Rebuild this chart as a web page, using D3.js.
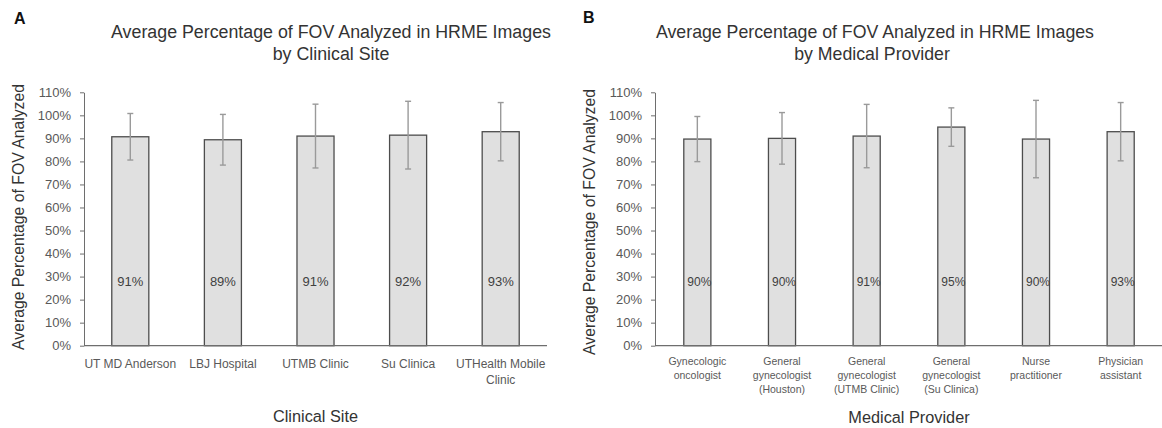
<!DOCTYPE html>
<html><head><meta charset="utf-8">
<script src="https://cdn.jsdelivr.net/npm/d3@7"></script>
<style>
body{margin:0;background:#fff}
svg{display:block}
text{font-family:"Liberation Sans",Arial,sans-serif}
</style>
</head><body>
<svg id="c" width="1162" height="428"></svg>
<script>
// ---- data ----
const sitesA = ["UT MD Anderson", "LBJ Hospital", "UTMB Clinic", "Su Clinica", "UTHealth Mobile\nClinic"];
const valuesA = [90.7, 89.4, 91.0, 91.4, 92.9];
const errorsA = [10.1, 11.0, 13.85, 14.7, 12.65];
const labelsA = ["91%", "89%", "91%", "92%", "93%"];

const providersB = ["Gynecologic\noncologist", "General\ngynecologist\n(Houston)", "General\ngynecologist\n(UTMB Clinic)", "General\ngynecologist\n(Su Clinica)", "Nurse\npractitioner", "Physician\nassistant"];
const valuesB = [89.7, 90.0, 91.0, 94.9, 89.7, 92.9];
const errorsB = [9.8, 11.2, 13.75, 8.35, 16.8, 12.65];
const labelsB = ["90%", "90%", "91%", "95%", "90%", "93%"];

const yTicks = [0, 10, 20, 30, 40, 50, 60, 70, 80, 90, 100, 110];
const titleLine1 = "Average Percentage of FOV Analyzed in HRME Images";
const yTitle = "Average Percentage of FOV Analyzed";

const svg = d3.select("#c");

function fitText(sel, width) {
  const node = sel.node();
  let size = parseFloat(sel.attr("font-size"));
  const w = node.getComputedTextLength();
  sel.attr("font-size", size * width / w);
}

function panel(cfg) {
  const g = svg.append("g");
  const y = d3.scaleLinear().domain([0, 110]).range([345.7, 92.3]);
  const x = d3.scaleBand().domain(cfg.cats).range([cfg.x0, cfg.x1])
    .paddingInner(cfg.pad).paddingOuter(cfg.pad / 2);

  // y axis
  const ya = g.append("g").attr("transform", `translate(${cfg.x0},0)`)
    .call(d3.axisLeft(y).tickValues(yTicks).tickSize(4).tickSizeOuter(0).tickPadding(9)
      .tickFormat(d => d + "%"));
  ya.select(".domain").attr("stroke", "#6e6e6e");
  ya.selectAll(".tick line").attr("stroke", "#6e6e6e");
  ya.selectAll(".tick text").attr("fill", "#595959").attr("font-size", 13)
    .attr("font-family", "Liberation Sans, Arial, sans-serif");

  // bars
  g.selectAll("rect.bar").data(cfg.cats).join("rect")
    .attr("x", d => x(d)).attr("width", x.bandwidth())
    .attr("y", (d, i) => y(cfg.values[i]))
    .attr("height", (d, i) => y(0) - y(cfg.values[i]))
    .attr("fill", "#e0e0e0").attr("stroke", "#4d4d4d").attr("stroke-width", 1.3);

  // x axis line
  g.append("line").attr("x1", cfg.x0).attr("x2", cfg.x1)
    .attr("y1", y(0)).attr("y2", y(0)).attr("stroke", "#6e6e6e").attr("stroke-width", 1.2);

  // error bars
  const eb = g.selectAll("g.err").data(cfg.cats).join("g")
    .attr("stroke", "#9a9a9a").attr("stroke-width", 1.4);
  eb.append("line")
    .attr("x1", d => x(d) + x.bandwidth() / 2).attr("x2", d => x(d) + x.bandwidth() / 2)
    .attr("y1", (d, i) => y(cfg.values[i] + cfg.errors[i]))
    .attr("y2", (d, i) => y(cfg.values[i] - cfg.errors[i]));
  [1, -1].forEach(s => {
    eb.append("line")
      .attr("x1", d => x(d) + x.bandwidth() / 2 - 3).attr("x2", d => x(d) + x.bandwidth() / 2 + 3)
      .attr("y1", (d, i) => y(cfg.values[i] + s * cfg.errors[i]))
      .attr("y2", (d, i) => y(cfg.values[i] + s * cfg.errors[i]));
  });

  // data labels
  g.selectAll("text.dl").data(cfg.cats).join("text")
    .attr("x", d => x(d) + x.bandwidth() / 2 + cfg.dlShift)
    .attr("y", y(0) - 64).attr("dy", "0.35em")
    .attr("text-anchor", "middle").attr("font-size", cfg.dlFont).attr("fill", "#404040")
    .text((d, i) => cfg.labels[i]);

  // category labels
  const cl = g.selectAll("text.cat").data(cfg.cats).join("text")
    .attr("text-anchor", "middle").attr("font-size", cfg.catFont).attr("fill", "#595959");
  cl.each(function (d) {
    const t = d3.select(this);
    d.split("\n").forEach((line, k) => {
      t.append("tspan").attr("x", x(d) + x.bandwidth() / 2)
        .attr("y", cfg.catY + k * cfg.catLH).text(line);
    });
  });

  // titles
  const t1 = g.append("text").attr("x", cfg.titleX).attr("y", cfg.titleY1)
    .attr("text-anchor", "middle").attr("font-size", 17).attr("fill", "#333").text(titleLine1);
  fitText(t1, cfg.titleW);
  g.append("text").attr("x", cfg.titleX2).attr("y", cfg.titleY2)
    .attr("text-anchor", "middle").attr("font-size", t1.attr("font-size")).attr("fill", "#333").text(cfg.title2);

  // y title
  const yt = g.append("text").attr("transform", `translate(${cfg.yTitleX},${cfg.yTitleY}) rotate(-90)`)
    .attr("text-anchor", "middle").attr("font-size", 16).attr("fill", "#333").text(yTitle);
  fitText(yt, 266);

  // x title
  g.append("text").attr("x", (cfg.x0 + cfg.x1) / 2).attr("y", cfg.xTitleY)
    .attr("text-anchor", "middle").attr("font-size", 16.3).attr("fill", "#333").text(cfg.xTitle);

  // panel letter
  g.append("text").attr("x", cfg.letterX).attr("y", cfg.letterY)
    .attr("font-size", 16).attr("font-weight", "bold").attr("fill", "#111").text(cfg.letter);
}

panel({
  cats: sitesA, values: valuesA, errors: errorsA, labels: labelsA,
  x0: 84, x1: 547, pad: 0.6, catFont: 12, catY: 367.5, catLH: 16, dlFont: 13, dlShift: 0,
  titleX: 331, titleX2: 331, titleW: 440, titleY1: 38, titleY2: 59.5, title2: "by Clinical Site",
  yTitleX: 23.5, yTitleY: 217, xTitle: "Clinical Site", xTitleY: 421.5,
  letter: "A", letterX: 14, letterY: 24
});
panel({
  cats: providersB, values: valuesB, errors: errorsB, labels: labelsB,
  x0: 655, x1: 1163, pad: 0.68, catFont: 10.5, catY: 364.7, catLH: 14.3, dlFont: 12, dlShift: 2,
  titleX: 875, titleX2: 872, titleW: 438, titleY1: 38, titleY2: 60, title2: "by Medical Provider",
  yTitleX: 594.6, yTitleY: 222, xTitle: "Medical Provider", xTitleY: 423,
  letter: "B", letterX: 583, letterY: 23
});
</script>
</body></html>
